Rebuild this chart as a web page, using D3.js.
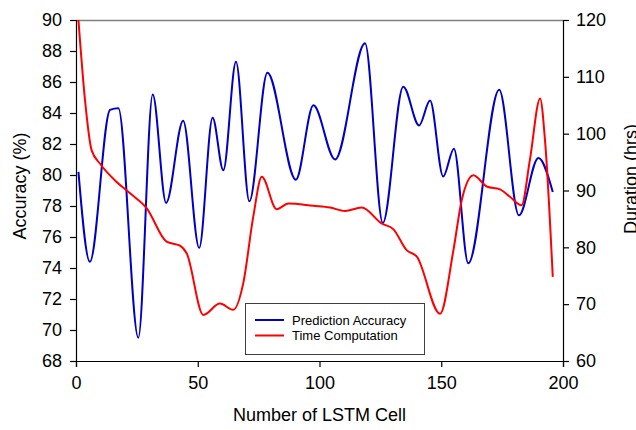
<!DOCTYPE html>
<html lang="en">
<head>
<meta charset="UTF-8">
<title>LSTM cells</title>
<script src="https://cdn.jsdelivr.net/npm/d3@7"></script>
<style>
  body { margin: 0; background: #fff; }
  text { font-family: "Liberation Sans", Arial, sans-serif; fill: #000; }
  .tick text { font-size: 18px; }
  .axis-title { font-size: 18px; }
  .legend text { font-size: 13px; }
</style>
</head>
<body>
<svg id="chart" width="636" height="430"></svg>
<script>
// accuracy curve at turning points
var accX = [1, 5.7, 14, 17.4, 25.6, 31.5, 37, 44, 50.6, 56.1, 60.5, 65.7, 71.2, 78.6, 90.3, 97.5, 106.4, 118.7, 126, 134.4, 140.9, 145.4, 150.8, 155.2, 161.1, 173.8, 181.9, 189.9, 195.8];
var accY = [80.2, 74.4, 84.2, 84.3, 69.5, 85.2, 78.2, 83.5, 75.3, 83.7, 80.3, 87.3, 78.3, 86.6, 79.7, 84.5, 81.0, 88.5, 76.9, 85.7, 83.2, 84.8, 79.9, 81.7, 74.3, 85.5, 77.4, 81.1, 78.9];

// computation time curve (right axis)
var timeX = [1, 3.7, 6.4, 9.9, 16.7, 22.2, 29, 37.2, 42.7, 45.5, 52.3, 59.1, 64.6, 68.7, 72.8, 76.3, 82.4, 87.2, 97.5, 104.3, 110.5, 117.3, 125.5, 130.3, 135.8, 139.9, 149.5, 155, 158.4, 163.2, 168.7, 174.1, 178.2, 183, 186.4, 190.6, 192.6, 195.8];
var timeY = [120, 105.9, 97.1, 94.7, 91.5, 89.5, 86.9, 81.0, 80.3, 78.9, 68.1, 70.1, 69.0, 73.7, 85.4, 92.4, 86.7, 87.7, 87.3, 87.0, 86.4, 87.0, 84.2, 83.2, 79.5, 78.4, 68.3, 79.5, 88.3, 92.7, 90.7, 90.2, 88.9, 87.4, 95.4, 106.2, 98.9, 74.8];

var xTicks = [0, 50, 100, 150, 200];
var accTicks = [68, 70, 72, 74, 76, 78, 80, 82, 84, 86, 88, 90];
var timeTicks = [60, 70, 80, 90, 100, 110, 120];

var seriesNames = ["Prediction Accuracy", "Time Computation"];
var seriesColors = ["#0000c8", "#ff0000"];

(function () {
    var svg = d3.select("#chart");
    var left = 76, right = 563, plotTop = 20, plotBottom = 361;

    var x = d3.scaleLinear().domain([0, 200]).range([left, right]);
    var yL = d3.scaleLinear().domain([68, 90]).range([plotBottom, plotTop]);
    var yR = d3.scaleLinear().domain([60, 120]).range([plotBottom, plotTop]);

    // top frame line
    svg.append("line")
        .attr("x1", left).attr("x2", right)
        .attr("y1", plotTop + 0.5).attr("y2", plotTop + 0.5)
        .attr("stroke", "#808080").attr("stroke-width", 1.5);

    function styleAxis(g) {
        g.selectAll("path, line").attr("stroke", "#000").attr("stroke-width", 1.2);
    }

    svg.append("g")
        .attr("transform", "translate(0," + plotBottom + ")")
        .call(d3.axisBottom(x).tickValues(xTicks).tickSizeOuter(0).tickSize(6).tickPadding(9))
        .call(styleAxis);

    svg.append("g")
        .attr("transform", "translate(" + left + ",0)")
        .call(d3.axisLeft(yL).tickValues(accTicks).tickSizeOuter(0).tickSize(6).tickPadding(8))
        .call(styleAxis);

    svg.append("g")
        .attr("transform", "translate(" + right + ",0)")
        .call(d3.axisRight(yR).tickValues(timeTicks).tickSizeOuter(0).tickSize(6).tickPadding(7))
        .call(styleAxis);

    svg.selectAll(".tick text").attr("fill", "#000");

    // lines
    var accLine = d3.line()
        .x(function (d, i) { return x(accX[i]); })
        .y(function (d) { return yL(d); })
        .curve(d3.curveMonotoneX);

    var timeLine = d3.line()
        .x(function (d, i) { return x(timeX[i]); })
        .y(function (d) { return yR(d); })
        .curve(d3.curveMonotoneX);

    svg.append("path")
        .datum(accY)
        .attr("d", accLine)
        .attr("fill", "none")
        .attr("stroke", seriesColors[0])
        .attr("stroke-width", 2);

    svg.append("path")
        .datum(timeY)
        .attr("d", timeLine)
        .attr("fill", "none")
        .attr("stroke", seriesColors[1])
        .attr("stroke-width", 2);

    // axis titles
    svg.append("text")
        .attr("class", "axis-title")
        .attr("x", (left + right) / 2)
        .attr("y", 421)
        .attr("text-anchor", "middle")
        .text("Number of LSTM Cell");

    svg.append("text")
        .attr("class", "axis-title")
        .attr("transform", "translate(26,186) rotate(-90)")
        .attr("text-anchor", "middle")
        .text("Accuracy (%)");

    svg.append("text")
        .attr("class", "axis-title")
        .attr("transform", "translate(637,179) rotate(-90)")
        .attr("text-anchor", "middle")
        .text("Duration (hrs)");

    // legend
    var legend = svg.append("g").attr("class", "legend");
    legend.append("rect")
        .attr("x", 245.5).attr("y", 303.5)
        .attr("width", 179).attr("height", 51)
        .attr("fill", "#fff")
        .attr("stroke", "#404040")
        .attr("stroke-width", 1);

    var rows = legend.selectAll("g.row")
        .data(seriesNames)
        .enter().append("g")
        .attr("class", "row")
        .attr("transform", function (d, i) { return "translate(0," + (320 + i * 15.5) + ")"; });

    rows.append("line")
        .attr("x1", 255).attr("x2", 284)
        .attr("stroke", function (d, i) { return seriesColors[i]; })
        .attr("stroke-width", 2);

    rows.append("text")
        .attr("x", 292)
        .attr("dy", "0.35em")
        .text(function (d) { return d; });
})();
</script>
</body>
</html>
